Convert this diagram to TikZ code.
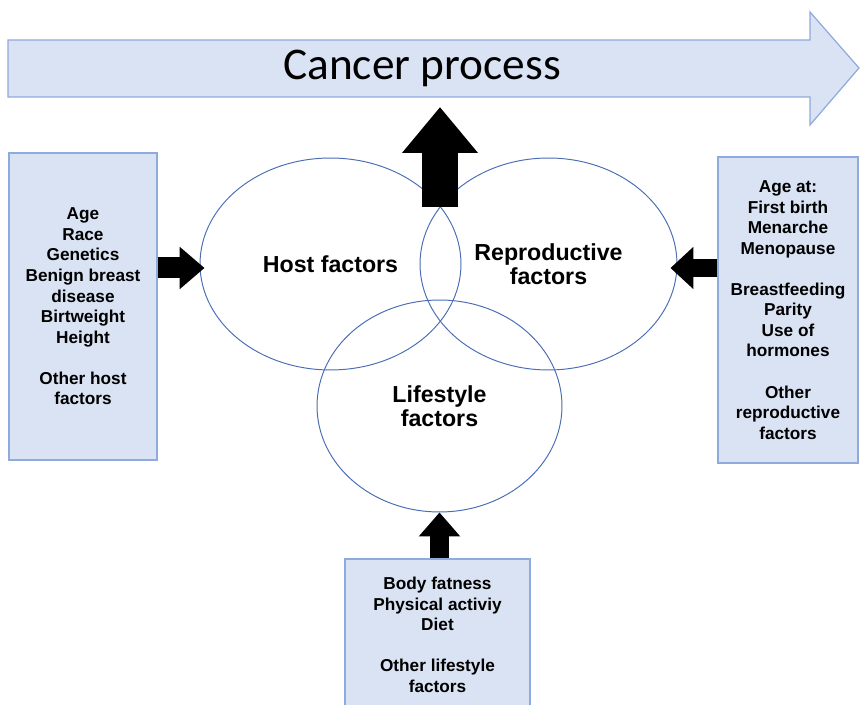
\documentclass[tikz,border=0pt]{standalone}
\usepackage{fontspec}
\setmainfont{Liberation Sans}
\newfontfamily\titlefont{Carlito}
\usetikzlibrary{arrows.meta, shapes.geometric}

\definecolor{boxfill}{HTML}{DAE3F3}
\definecolor{boxline}{HTML}{8FAADC}
\definecolor{ringline}{HTML}{4A6DB5}

\tikzset{
  factorbox/.style={draw=boxline, fill=boxfill, line width=0.7pt, align=center, inner sep=0pt,
    font=\bfseries\fontsize{9.8}{11.7}\selectfont},
  ring/.style={draw=ringline, ellipse, line width=0.55pt, align=center, inner sep=0pt,
    font=\bfseries\fontsize{13.2}{13.8}\selectfont},
  push/.style n args={3}{draw=black, line width=#1, -{Triangle[length=#2, width=#3]}}
}

\begin{document}
\begin{tikzpicture}[x=0.02cm, y=-0.02cm]
  \useasboundingbox (0,0) rectangle (860,705);
  \clip (0,0) rectangle (860,705);

  % process arrow
  \draw[draw=boxline, fill=boxfill, line width=0.7pt]
    (8,40) -- (810,40) -- (810,12) -- (859,68) -- (810,125) -- (810,97) -- (8,97) -- cycle;
  \node[font=\titlefont\fontsize{25.8}{30}\selectfont] (process) at (422,68) {Cancer process};
  \coordinate (processfoot) at (440,107);

  % factor circles
  \node[ring, minimum width=5.22cm, minimum height=4.24cm] (host) at (330.5,264) {Host factors};
  \node[ring, minimum width=5.14cm, minimum height=4.24cm] (repro) at (548.5,264) {Reproductive\\factors};
  \node[ring, minimum width=4.9cm, minimum height=4.24cm] (life) at (439.5,406) {Lifestyle\\factors};
  \coordinate (overlap) at (440,207);

  % factor boxes
  \node[factorbox, minimum width=2.96cm, minimum height=6.14cm] (hostbox) at (83,306.5)
    {Age\\Race\\Genetics\\Benign breast\\disease\\Birtweight\\Height\\[\baselineskip]Other host\\factors};
  \node[factorbox, minimum width=2.8cm, minimum height=6.12cm] (reprobox) at (788,310)
    {Age at:\\First birth\\Menarche\\Menopause\\[\baselineskip]Breastfeeding\\Parity\\Use of\\hormones\\[\baselineskip]Other\\reproductive\\factors};
  \node[factorbox, minimum width=3.7cm, minimum height=3.04cm] (lifebox) at (437.5,635)
    {Body fatness\\Physical activiy\\Diet\\[\baselineskip]Other lifestyle\\factors};

  % block arrows
  \draw[push={0.74cm}{0.92cm}{1.46cm}] (overlap) -- (processfoot);
  \draw[push={0.42cm}{0.5cm}{0.82cm}] (hostbox.east |- 0,268) -- ([xshift=0.1cm]host.west |- 0,268);
  \draw[push={0.36cm}{0.46cm}{0.82cm}] (reprobox.west |- 0,268) -- ([xshift=-0.14cm]repro.east |- 0,268);
  \draw[push={0.4cm}{0.48cm}{0.8cm}] (life.south |- lifebox.north) -- (life.south);
\end{tikzpicture}
\end{document}
